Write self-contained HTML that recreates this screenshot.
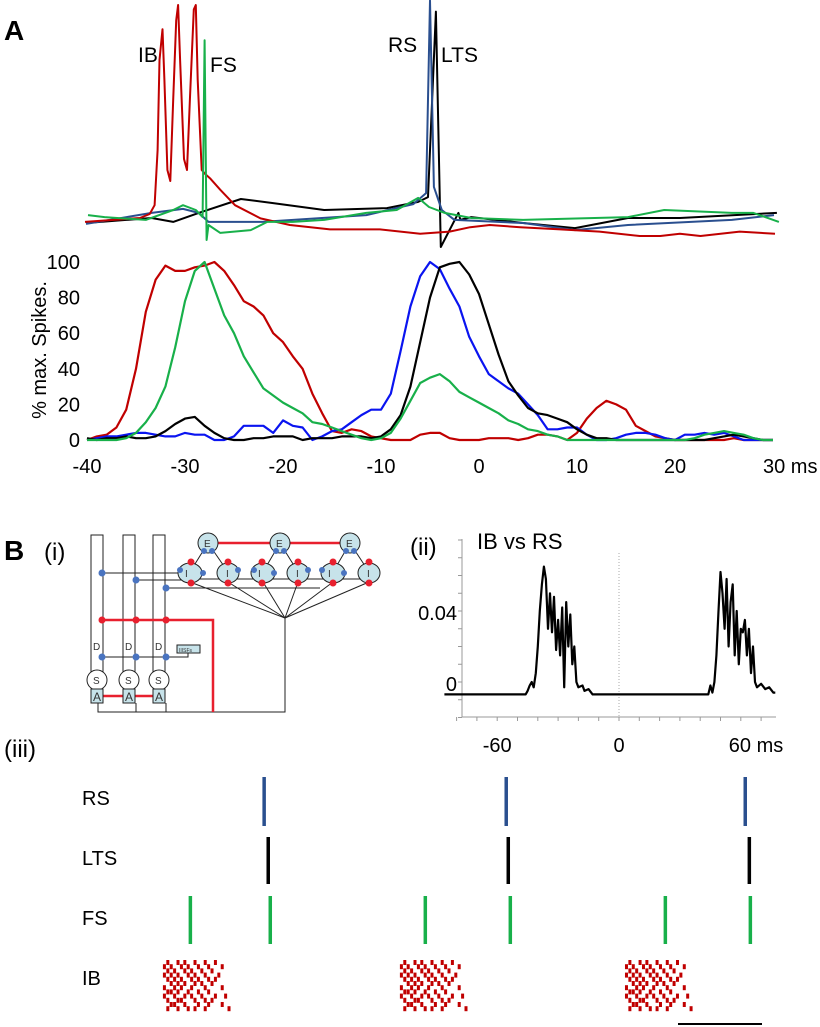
<!DOCTYPE html>
<html><head><meta charset="utf-8"><style>
html,body{margin:0;padding:0;background:#fff}
svg{display:block;font-family:"Liberation Sans",Arial,sans-serif}
</style></head><body>
<svg id="fig" width="820" height="1027" viewBox="0 0 820 1027" xmlns="http://www.w3.org/2000/svg">
<text x="4" y="40" font-size="28" font-weight="bold">A</text>
<text x="138" y="62" font-size="21">IB</text>
<text x="210" y="72" font-size="21">FS</text>
<text x="388" y="52" font-size="21">RS</text>
<text x="441" y="62" font-size="21">LTS</text>
<g id="traces"></g>
<g id="hist"></g>
<text transform="translate(46,350) rotate(-90)" text-anchor="middle" font-size="20">% max.  Spikes.</text>

<text x="4" y="560" font-size="28" font-weight="bold">B</text>
<text x="44" y="560" font-size="24">(i)</text>
<g stroke="#222" stroke-width="1" fill="none">
  <rect x="91" y="535" width="12" height="146"/>
  <rect x="123" y="535" width="12" height="146"/>
  <rect x="153" y="535" width="12" height="146"/>
  <line x1="102" y1="573" x2="190" y2="573"/>
  <line x1="136" y1="580" x2="190" y2="580"/>
  <line x1="166" y1="588" x2="320" y2="588"/>
  <line x1="102" y1="657" x2="136" y2="657"/>
  <line x1="136" y1="657" x2="166" y2="657"/>
  <polyline points="166,657 188,657 188,653"/>
  <polyline points="98,703 98,712 285,712 285,618"/>
  <line x1="136" y1="703" x2="136" y2="712"/>
  <line x1="166" y1="703" x2="166" y2="712"/>
  <line x1="285" y1="618" x2="190" y2="582"/><line x1="285" y1="618" x2="228" y2="582"/>
  <line x1="285" y1="618" x2="263" y2="582"/><line x1="285" y1="618" x2="298" y2="582"/>
  <line x1="285" y1="618" x2="333" y2="582"/><line x1="285" y1="618" x2="369" y2="582"/>
  <line x1="190" y1="572" x2="208" y2="543"/><line x1="228" y1="572" x2="208" y2="543"/>
  <line x1="263" y1="572" x2="280" y2="543"/><line x1="298" y1="572" x2="280" y2="543"/>
  <line x1="333" y1="572" x2="350" y2="543"/><line x1="369" y1="572" x2="350" y2="543"/>
  <line x1="190" y1="579" x2="369" y2="579"/>
  <polyline points="102,620 213,620 213,712" stroke="#e8202e" stroke-width="2.5"/>
  <line x1="208" y1="543" x2="350" y2="543" stroke="#e8202e" stroke-width="2.5"/>
  <line x1="103" y1="696" x2="153" y2="696" stroke="#e8202e" stroke-width="2.5"/>
  <g fill="#fff"><circle cx="97" cy="680" r="10"/><circle cx="129" cy="680" r="10"/><circle cx="159" cy="680" r="10"/></g>
  <g fill="#c7e3ea"><rect x="91" y="689" width="12" height="14"/><rect x="123" y="689" width="12" height="14"/><rect x="153" y="689" width="12" height="14"/>
  <circle cx="208" cy="543" r="10"/><circle cx="280" cy="543" r="10"/><circle cx="350" cy="543" r="10"/>
  <ellipse cx="190" cy="573" rx="12" ry="10"/><ellipse cx="228" cy="573" rx="11" ry="10"/>
  <ellipse cx="263" cy="573" rx="12" ry="10"/><ellipse cx="298" cy="573" rx="11" ry="10"/>
  <ellipse cx="333" cy="573" rx="12" ry="10"/><ellipse cx="369" cy="573" rx="11" ry="10"/>
  <rect x="177" y="645" width="23" height="8"/></g>
  <g fill="#4a74c0" stroke="none">
  <circle cx="102" cy="573" r="3.5"/><circle cx="136" cy="580" r="3.5"/><circle cx="166" cy="588" r="3.5"/>
  <circle cx="102" cy="657" r="3.5"/><circle cx="136" cy="657" r="3.5"/><circle cx="166" cy="657" r="3.5"/>
  <circle cx="204" cy="551" r="3"/><circle cx="212" cy="551" r="3"/><circle cx="276" cy="551" r="3"/><circle cx="284" cy="551" r="3"/><circle cx="346" cy="551" r="3"/><circle cx="354" cy="551" r="3"/>
  <circle cx="180" cy="570" r="3"/><circle cx="203" cy="573" r="3"/><circle cx="238" cy="570" r="3"/><circle cx="254" cy="570" r="3"/><circle cx="274" cy="573" r="3"/><circle cx="308" cy="570" r="3"/><circle cx="322" cy="570" r="3"/><circle cx="344" cy="573" r="3"/></g>
  <g fill="#e8202e" stroke="none">
  <circle cx="102" cy="620" r="3.5"/><circle cx="136" cy="620" r="3.5"/><circle cx="166" cy="620" r="3.5"/>
  <circle cx="191" cy="562" r="3.5"/><circle cx="191" cy="583" r="3.5"/><circle cx="228" cy="562" r="3.5"/><circle cx="228" cy="583" r="3.5"/>
  <circle cx="262" cy="562" r="3.5"/><circle cx="262" cy="583" r="3.5"/><circle cx="298" cy="562" r="3.5"/><circle cx="298" cy="583" r="3.5"/>
  <circle cx="333" cy="562" r="3.5"/><circle cx="333" cy="583" r="3.5"/><circle cx="369" cy="562" r="3.5"/><circle cx="369" cy="583" r="3.5"/></g>
  <g fill="#333" stroke="none" font-size="10">
  <text x="93" y="650">D</text><text x="125" y="650">D</text><text x="155" y="650">D</text>
  <text x="93" y="684">S</text><text x="125" y="684">S</text><text x="155" y="684">S</text>
  <text x="93" y="701" font-size="12">A</text><text x="125" y="701" font-size="12">A</text><text x="155" y="701" font-size="12">A</text>
  <text x="204" y="547">E</text><text x="276" y="547">E</text><text x="346" y="547">E</text>
  <text x="185" y="577">I</text><text x="226" y="577">I</text><text x="258" y="577">I</text><text x="296" y="577">I</text><text x="328" y="577">I</text><text x="367" y="577">I</text>
  <text x="179" y="652" font-size="5">IIISFs</text></g>
</g>

<text x="410" y="555" font-size="24">(ii)</text>
<text x="477" y="549" font-size="22">IB vs RS</text>
<g id="xc"></g>

<text x="4" y="757" font-size="24">(iii)</text>
<text x="82" y="805" font-size="20">RS</text>
<text x="82" y="865" font-size="20">LTS</text>
<text x="82" y="925" font-size="20">FS</text>
<text x="82" y="985" font-size="20">IB</text>
<g id="raster"></g>
<line x1="678" y1="1024" x2="762" y2="1024" stroke="#000" stroke-width="2"/>
</svg>
<script>
// ---------- Panel A histogram data (time ms, % max spikes) ----------
const histTimes = [];for(let t=-40;t<=30;t++)histTimes.push(t);
const ibHist=[0,2,3,7,17,40,72,90,98,95,95,97,98,100,95,87,78,75,70,60,55,47,40,26,15,5,4,6,5,2,1,0,0,0,3,4,4,1,0,0,0,1,1,1,0,1,3,3,2,0,4,12,18,22,20,17,8,5,2,1,0,0,0,0,0,0,1,0,0,0,0];
const fsHist=[0,0,0,0,1,4,10,18,30,52,78,95,100,85,70,60,47,38,29,25,21,18,15,10,9,7,5,3,1,0,1,4,12,22,32,35,37,33,27,24,21,18,15,11,9,6,5,3,2,0,0,0,0,0,0,0,0,0,0,0,0,0,1,3,4,5,4,3,1,0,0];
const ltsHist=[1,0,1,1,2,1,1,2,5,9,12,13,8,4,1,0,0,1,1,2,2,2,0,1,1,1,2,2,2,1,2,6,14,30,55,80,97,99,100,93,82,65,48,33,25,18,15,14,12,10,6,3,1,1,0,0,0,0,0,0,0,0,0,0,1,2,3,2,1,0,0];
const rsHist=[0,1,2,2,3,4,4,3,2,2,4,3,3,0,0,2,8,8,8,4,11,8,7,0,2,5,6,10,14,17,17,26,50,75,92,100,96,85,75,58,47,37,33,29,26,20,14,6,6,7,7,3,0,0,1,3,4,4,3,1,0,3,3,4,3,4,2,0,0,0,0];
const histXTicks=[-40,-30,-20,-10,0,10,20,30];
const histYTicks=[0,20,40,60,80,100];
// ---------- Panel A traces (time ms, relative potential) ----------
const ibTraceT=[-40.2,-34.6,-33.6,-33.1,-32.8,-32.6,-32.3,-32.1,-31.8,-31.5,-31.2,-30.9,-30.7,-30.5,-30.1,-29.8,-29.5,-29.1,-28.9,-28.7,-28.3,-27.9,-27.4,-26.4,-24.9,-22.3,-19.3,-15.2,-10.1,-6.0,-3.0,-0.9,1.1,4.2,8.3,12.3,16.4,18.5,20.5,22.6,26.6,30.2];
const ibTraceV=[1.4,3.2,5,9,34,75,89,66,25,20,57,93,100,75,30,25,57,98,100,66,25,23,21,16,9,3,0,-2,-2,-4,-3,-1,0,-1,-2,-3,-5,-5,-4,-5,-3,-4];
const fsTraceT=[-39.9,-38.2,-34,-31.2,-30.2,-28.9,-28.2,-28.0,-27.8,-27.6,-26.4,-23.3,-21.6,-19,-15.8,-11.5,-8.4,-6.2,-5.1,-3.5,-0.8,4.5,15.2,18.9,25.8,28.0,30.6];
const fsTraceV=[4.5,3.6,2.3,6.8,9,6.8,3.6,84,-6.8,0,-3.6,-2.3,1.4,1.4,2.3,5.5,6.8,12.3,8.2,5.5,3.2,2.3,3.6,6.8,5.5,5.5,1.4];
const ltsTraceT=[-40.1,-33.4,-31.2,-28.6,-24.3,-21.1,-15.8,-9.4,-6.2,-5.2,-4.4,-3.9,-2.1,-1.9,-0.8,4.5,9.8,15.2,20.5,30.4];
const ltsTraceV=[0.9,3.2,1.4,5.5,11.8,10,6.8,7.7,10.5,12.7,97,-10,5.5,2.3,3.6,0.9,-1.4,3.2,3.2,5.5];
const rsTraceT=[-40.1,-33.4,-30.2,-28.6,-27.6,-22.1,-11.5,-6.7,-5.4,-5.0,-4.6,-3.8,-2.5,4.5,9.8,15.2,25.8,30.1];
const rsTraceV=[0.5,5.5,7.3,5.5,1.4,1.4,4.5,9.5,14.5,102,17.3,6.8,2.3,0.9,-2.3,0,2.3,4.5];
// ---------- Panel B(ii) cross-correlogram ----------
const xcLag=[-86,-46,-45,-44,-43,-42,-41,-40,-39,-38,-37,-36,-35,-34,-33,-32,-31,-30,-29,-28,-27,-26,-25,-24,-23,-22,-21,-20,-18,-17,-15,-13,44,45,46,47,48,49,50,51,52,53,54,55,56,57,58,59,60,61,62,63,64,65,66,67,68,70,72,74,76,77];
const xcVal=[-0.007,-0.007,-0.005,-0.002,0,-0.003,0.005,0.02,0.04,0.055,0.065,0.058,0.03,0.05,0.028,0.048,0.018,0.035,0.015,0.042,-0.003,0.045,0.02,0.038,0.01,0.02,0,-0.003,-0.002,-0.005,-0.004,-0.007,-0.007,-0.002,-0.006,0,0.015,0.04,0.062,0.05,0.03,0.058,0.02,0.045,0.055,0.015,0.04,0.01,0.03,0.028,0.035,0.015,0.03,0.005,0.02,0,-0.003,-0.001,-0.004,-0.003,-0.006,-0.006];
const xcXTicks=[-60,0,60];
const xcXTickLabels=["-60","0","60 ms"];
const xcYTicks=[0,0.04];
const xcYTickLabels=["0","0.04"];
// ---------- Panel B(iii) raster (spike times, ms) ----------
const rsTimes=[33.5,104.7,175];
const ltsTimes=[34.7,105.3,176.2];
const fsTimes=[11.8,35.3,80.9,105.9,151.5,176.5];
const ibBurstStarts=[3.8,73.5,139.7];
const ibRowOffsets=[
 [1,4,6,9,12,15],[0,2,5,7,10,13,17],[1,3,6,8,11,14],[0,2,4,7,9,12,16],
 [1,3,5,8,10,13,15],[2,4,6,9,11,14],[0,3,5,8,12,17],[1,2,4,7,10,13],
 [0,3,6,8,11,15,18],[1,4,5,9,12,14],[2,3,6,10,13,17],[1,4,7,9,12,19]];

const NS="http://www.w3.org/2000/svg";
function mk(tag,attrs,parent){const e=document.createElementNS(NS,tag);for(const k in attrs)e.setAttribute(k,attrs[k]);parent.appendChild(e);return e;}

const hx=t=>87+(t+40)*9.8;
const hy=v=>440-v*1.78;
const ty=v=>225-v*2.2;
const traces=document.getElementById('traces');
function tracePath(T,V,color,name){
  const d=T.map((t,i)=>(i?'L':'M')+hx(t).toFixed(1)+','+ty(V[i]).toFixed(1)).join('');
  const p=mk('path',{d:d,fill:'none',stroke:color,'stroke-width':2,'stroke-linejoin':'round'},traces);
  
  
}
tracePath(ltsTraceT,ltsTraceV,'#000','lts-trace');
tracePath(rsTraceT,rsTraceV,'#2a4f8f','rs-trace');
tracePath(ibTraceT,ibTraceV,'#c00000','ib-trace');
tracePath(fsTraceT,fsTraceV,'#18b04a','fs-trace');

const hist=document.getElementById('hist');
function histLine(V,color,name){
  const d=histTimes.map((t,i)=>(i?'L':'M')+hx(t).toFixed(1)+','+hy(V[i]).toFixed(1)).join('');
  const p=mk('path',{d:d,fill:'none',stroke:color,'stroke-width':2.2,'stroke-linejoin':'round'},hist);
  
  
}
histLine(ibHist,'#c00000','ib-histogram-line');
histLine(rsHist,'#0a14f0','rs-histogram-line');
histLine(ltsHist,'#000','lts-histogram-line');
histLine(fsHist,'#18b04a','fs-histogram-line');
histYTicks.forEach(v=>{
  const t=mk('text',{x:80,y:hy(v)+7,'text-anchor':'end','font-size':20},hist);
  t.textContent=v;
  
  
});
histXTicks.forEach(v=>{
  const t=mk('text',{x:hx(v),y:473,'text-anchor':'middle','font-size':20},hist);
  t.textContent=v;
  if(v===30){t.setAttribute('text-anchor','start');t.setAttribute('x',hx(v)-10);t.textContent='30 ms';}
  
  
});

const xc=document.getElementById('xc');
const cx=l=>619+l*2.03;
const cy=v=>682-v/0.04*71;
const axc='#999';
mk('line',{x1:462,y1:539,x2:462,y2:717,stroke:axc,'stroke-width':1},xc);
mk('line',{x1:462,y1:717,x2:776,y2:717,stroke:axc,'stroke-width':1},xc);
for(let v=-0.02;v<=0.0801;v+=0.01){mk('line',{x1:458,y1:cy(v),x2:462,y2:cy(v),stroke:axc},xc);}
for(let l=-80;l<=76;l+=10){mk('line',{x1:cx(l),y1:717,x2:cx(l),y2:721,stroke:axc},xc);}
mk('line',{x1:cx(0),y1:553,x2:cx(0),y2:717,stroke:'#aaa','stroke-dasharray':'1,2'},xc);
xcYTicks.forEach((v,i)=>{
  const t=mk('text',{x:457,y:cy(v)+9,'text-anchor':'end','font-size':20},xc);
  t.textContent=xcYTickLabels[i];
  
  
});
xcXTicks.forEach((v,i)=>{
  const t=mk('text',{x:cx(v),y:752,'text-anchor':i===2?'start':'middle','font-size':20},xc);
  if(i===2)t.setAttribute('x',cx(v)-12);
  t.textContent=xcXTickLabels[i];
  
  
});
{
  const d=xcLag.map((l,i)=>(i?'L':'M')+cx(l).toFixed(1)+','+cy(xcVal[i]).toFixed(1)).join('');
  const p=mk('path',{d:d,fill:'none',stroke:'#000','stroke-width':2.2,'stroke-linejoin':'round'},xc);
  
  
}

const raster=document.getElementById('raster');
const rx=t=>150+t*3.4;
function bar(t,y0,y1,color,name){
  const r=mk('rect',{x:rx(t)-1.5,y:y0,width:3.5,height:y1-y0,fill:color},raster);
  
  
}
rsTimes.forEach(t=>bar(t,777,826,'#2a4f8f','rs-spike-column'));
ltsTimes.forEach(t=>bar(t,837,884,'#000','lts-spike-column'));
fsTimes.forEach(t=>bar(t,896,944,'#18b04a','fs-spike-column'));
ibBurstStarts.forEach(s=>{
  ibRowOffsets.forEach((row,ri)=>{
    row.forEach(o=>{
      const r=mk('rect',{x:rx(s+o),y:960+ri*4.2,width:3,height:5,fill:'#c00000'},raster);
      
      
    });
  });
});
</script>
</body></html>
